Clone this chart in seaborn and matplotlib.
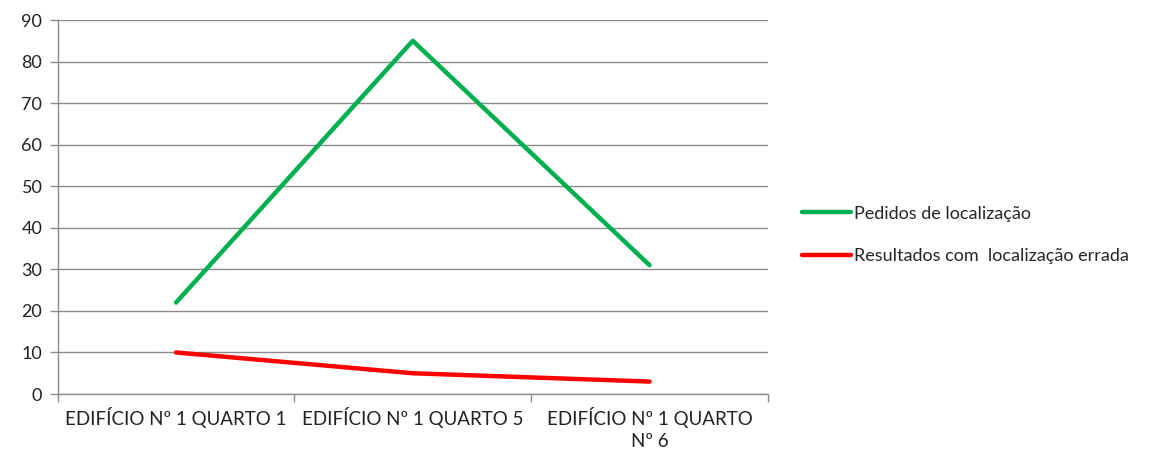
import numpy as np
import pandas as pd
import matplotlib
matplotlib.use("Agg")
import matplotlib.pyplot as plt
import seaborn as sns

# data
categories = ["EDIFÍCIO Nº 1 QUARTO 1", "EDIFÍCIO Nº 1 QUARTO 5", "EDIFÍCIO Nº 1 QUARTO\nNº 6"]
pedidos = [22, 85, 31]
errados = [10, 5, 3]
series_names = ["Pedidos de localização", "Resultados com  localização errada"]

df = pd.DataFrame({
    "pos": list(range(len(categories))) * 2,
    "valor": pedidos + errados,
    "serie": [series_names[0]] * len(categories) + [series_names[1]] * len(categories),
})

sns.set_style("white")
plt.rcParams["font.family"] = ["Lato", "DejaVu Sans"]

fig = plt.figure(figsize=(11.53, 4.55), dpi=100)
ax = fig.add_axes([0.050, 0.134, 0.616, 0.822])

sns.lineplot(data=df, x="pos", y="valor", hue="serie",
             palette=["#00B050", "#FF0000"], linewidth=3.2, ax=ax,
             legend=False, solid_capstyle="round")

ax.set_xlim(-0.5, len(categories) - 0.5)
ax.set_ylim(0, 90)
ax.set_yticks(range(0, 91, 10))
ax.yaxis.grid(True, color="#8c8c8c", linewidth=1)
ax.set_axisbelow(True)

# ticks on category boundaries, labels at category centres
ax.set_xticks(np.arange(-0.5, len(categories), 1))
ax.set_xticklabels([])
ax.set_xticks(range(len(categories)), minor=True)
ax.set_xticklabels(categories, minor=True, fontsize=13.5, color="#222222",
                   linespacing=1.4)
ax.tick_params(axis="x", which="major", bottom=True, length=6, color="#8c8c8c",
               direction="out", width=1)
ax.tick_params(axis="x", which="minor", bottom=True, length=0, pad=9)
ax.tick_params(axis="y", left=True, length=6, color="#8c8c8c", direction="out",
               width=1, labelsize=13, labelcolor="#222222", pad=5)
ax.set_xlabel("")
ax.set_ylabel("")

for s in ["top", "right"]:
    ax.spines[s].set_visible(False)
for s in ["left", "bottom"]:
    ax.spines[s].set_color("#8c8c8c")
    ax.spines[s].set_linewidth(1)

handles = [plt.Line2D([], [], color="#00B050", linewidth=3.2),
           plt.Line2D([], [], color="#FF0000", linewidth=3.2)]
fig.legend(handles, series_names, loc="center left", bbox_to_anchor=(0.696, 0.484),
           frameon=False, fontsize=13, handlelength=2.7, handletextpad=0.15,
           labelspacing=1.45, borderpad=0, borderaxespad=0)

fig.savefig("out.png", dpi=100)
